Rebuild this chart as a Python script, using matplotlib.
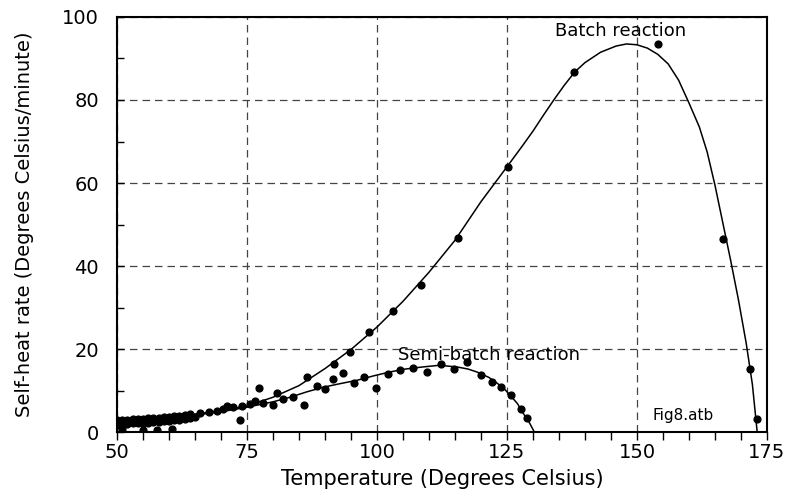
import numpy as np
import matplotlib
matplotlib.use("Agg")
import matplotlib.pyplot as plt
from matplotlib.ticker import MultipleLocator

# fitted curves
batch_curve_T = [50, 55, 60, 65, 70, 75, 80, 85, 90, 95, 100, 105, 110, 115, 120,
                 125, 128, 130, 132, 134, 136, 138, 140, 143, 146, 148, 150, 152,
                 154, 156, 158, 160, 162, 163.5, 165, 166.5, 168, 169.5, 171,
                 172.2, 173.1]
batch_curve_r = [2.6, 3.0, 3.6, 4.3, 5.2, 6.3, 8.4, 11.2, 15.3, 19.9, 25.3, 31.5,
                 38.5, 46.2, 55.5, 63.9, 69.0, 72.5, 76.3, 80.0, 83.5, 86.7, 89.0,
                 91.5, 93.0, 93.5, 93.3, 92.5, 91.0, 88.7, 84.8, 79.3, 73.5, 67.5,
                 59.5, 50.5, 41.5, 32.0, 21.5, 11.5, 0.3]

semi_curve_T = [50, 55, 60, 65, 70, 75, 80, 83.3, 86.5, 89.6, 93, 96.2, 99.5, 102.5,
                105.5, 108.8, 112, 115.4, 117.5, 119.2, 121.5, 123.1, 124.5, 125.6,
                127, 128.1, 129.3, 130.2]
semi_curve_r = [2.4, 2.9, 3.4, 4.1, 4.9, 6.0, 7.3, 8.4, 9.7, 10.8, 11.7, 12.5,
                13.6, 14.5, 15.2, 15.7, 16.1, 15.7, 15.2, 14.5, 13.2, 11.8, 10.4,
                8.9, 6.9, 4.6, 2.3, 0.2]

# measured points
batch_T = [50, 51, 52, 53, 54, 55, 56, 57, 58, 59, 60, 61, 62, 63, 64, 66, 67.7,
           69.2, 71.2, 74, 76.5, 77.3, 80.8, 86.5, 91.5, 91.7, 93.5, 94.8, 98.5,
           103.1, 108.5, 115.6, 125.2, 137.9, 154, 166.5, 171.7, 173.1]
batch_r = [2.9, 3.0, 3.0, 3.1, 3.1, 3.2, 3.3, 3.4, 3.5, 3.6, 3.7, 3.8, 4.0, 4.1,
           4.3, 4.5, 4.8, 5.2, 6.3, 6.3, 7.5, 10.6, 9.5, 13.3, 12.8, 16.4, 14.2,
           19.3, 24.1, 29.2, 35.4, 46.7, 63.9, 86.7, 93.5, 46.5, 15.2, 3.1]

semi_T = [50, 50.5, 51, 52, 53, 54, 55, 55, 56, 57, 57.7, 58, 59, 60, 60.6, 61, 62,
          63, 64, 65, 70.4, 72.3, 73.7, 75.6, 78.1, 80, 82, 83.8, 86, 88.5, 90,
          95.6, 97.5, 99.8, 102.1, 104.4, 106.9, 109.6, 112.3, 114.8, 117.3, 120,
          122.1, 123.8, 125.8, 127.7, 128.8]
semi_r = [1.8, 2.2, 0.8, 2.0, 2.1, 2.1, 2.2, 0.5, 2.3, 2.4, 0.6, 2.5, 2.6, 2.8, 0.7,
          2.9, 3.0, 3.2, 3.4, 3.6, 5.5, 6.1, 2.9, 6.7, 7.0, 6.5, 8.0, 8.4, 6.5,
          11.1, 10.4, 11.8, 13.3, 10.6, 14.0, 14.9, 15.4, 14.5, 16.4, 15.2, 16.9,
          13.7, 12.0, 10.8, 8.9, 5.5, 3.4]

plt.rcParams['font.family'] = ['DejaVu Sans']

fig = plt.figure(figsize=(7.85, 4.99), dpi=100)
ax = fig.add_axes([0.149, 0.134, 0.828, 0.832])

ax.plot(batch_curve_T, batch_curve_r, color='black', lw=1.1)
ax.plot(semi_curve_T, semi_curve_r, color='black', lw=1.1)
ax.scatter(batch_T, batch_r, s=24, color='black', zorder=3)
ax.scatter(semi_T, semi_r, s=24, color='black', zorder=3)

ax.set_xlim(50, 175)
ax.set_ylim(0, 100)
ax.xaxis.set_major_locator(MultipleLocator(25))
ax.xaxis.set_minor_locator(MultipleLocator(5))
ax.yaxis.set_major_locator(MultipleLocator(20))
ax.yaxis.set_minor_locator(MultipleLocator(10))
ax.tick_params(axis='x', which='both', direction='out', length=6, width=1,
               labelsize=14, pad=2)
ax.tick_params(axis='y', which='both', direction='in', length=5, width=1,
               labelsize=14, pad=13)
for s in ax.spines.values():
    s.set_linewidth(1.5)

ax.grid(True, which='major', color='#444444', linestyle=(0, (6, 4)), lw=0.9)

ax.set_xlabel('Temperature (Degrees Celsius)', fontsize=15, labelpad=5)
ax.set_ylabel('Self-heat rate (Degrees Celsius/minute)', fontsize=14, labelpad=20)

ax.text(146.9, 96.6, 'Batch reaction', fontsize=13, ha='center', va='center')
ax.text(104, 18.6, 'Semi-batch reaction', fontsize=13, ha='left', va='center')
ax.text(158.8, 4.1, 'Fig8.atb', fontsize=11, ha='center', va='center')

fig.savefig('out.png', dpi=100)
